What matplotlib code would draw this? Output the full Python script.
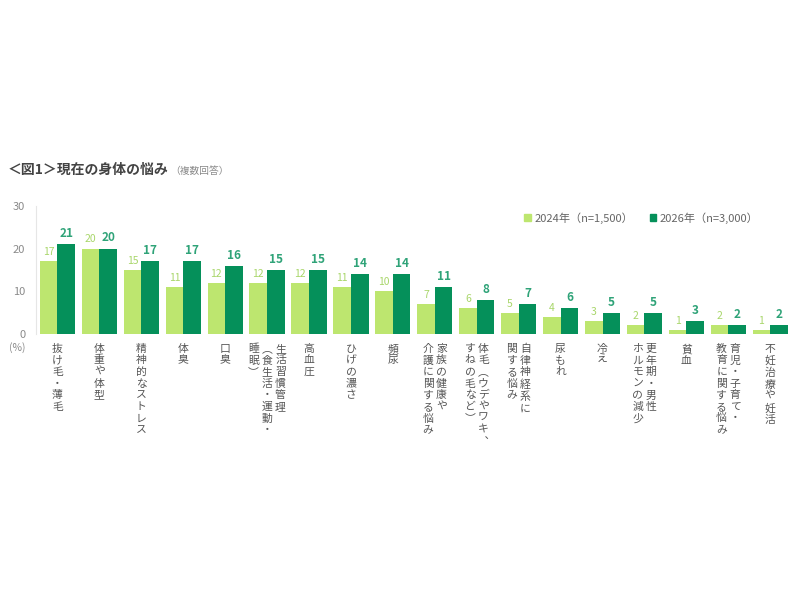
import matplotlib
matplotlib.use("Agg")
import matplotlib.pyplot as plt
from matplotlib.patches import Patch
import numpy as np

plt.rcParams['font.family'] = ['Noto Sans CJK JP', 'DejaVu Sans']

categories = [
    "抜け毛・薄毛",
    "体重や体型",
    "精神的なストレス",
    "体臭",
    "口臭",
    "生活習慣管理\n（食生活・運動・\n睡眠）",
    "高血圧",
    "ひげの濃さ",
    "頻尿",
    "家族の健康や\n介護に関する悩み",
    "体毛（ウデやワキ、\nすねの毛など）",
    "自律神経系に\n関する悩み",
    "尿もれ",
    "冷え",
    "更年期・男性\nホルモンの減少",
    "貧血",
    "育児・子育て・\n教育に関する悩み",
    "不妊治療や妊活",
]
values_2024 = [17, 20, 15, 11, 12, 12, 12, 11, 10, 7, 6, 5, 4, 3, 2, 1, 2, 1]
values_2026 = [21, 20, 17, 17, 16, 15, 15, 14, 14, 11, 8, 7, 6, 5, 5, 3, 2, 2]
series_names = ["2024年（n=1,500）", "2026年（n=3,000）"]
yticks = [0, 10, 20, 30]

light = "#bde66f"
dark = "#05905a"
light_txt = "#a8d66a"
dark_txt = "#2fa378"
gray = "#8a8a8a"

vert_map = {"（": "\ufe35", "）": "\ufe36", "、": "\ufe11"}

fig = plt.figure(figsize=(8, 6), dpi=100)
ax = fig.add_axes([0.0456, 0.4433, 0.9434, 0.2134])

x = np.arange(len(categories))
w = 0.42
ax.bar(x - w / 2, values_2024, width=w, color=light, label=series_names[0])
ax.bar(x + w / 2, values_2026, width=w, color=dark, label=series_names[1])

for xi, v in zip(x, values_2024):
    ax.annotate(f"{v}", (xi - w / 2, v), xytext=(0, 3), textcoords="offset points",
                ha="center", va="bottom", fontsize=7.5, color=light_txt)
for xi, v in zip(x, values_2026):
    ax.annotate(f"{v}", (xi + w / 2, v), xytext=(0, 3), textcoords="offset points",
                ha="center", va="bottom", fontsize=8.5, color=dark_txt, fontweight="bold")

ax.set_xlim(-0.5, len(categories) - 0.5)
ax.set_ylim(0, 30)
ax.set_yticks(yticks)
ax.set_yticklabels([str(t) for t in yticks])
ax.tick_params(axis="y", length=0, pad=8, labelsize=8, labelcolor=gray)
ax.set_xticks([])
for s in ["top", "right", "bottom"]:
    ax.spines[s].set_visible(False)
ax.spines["left"].set_color("#e6e6e6")
ax.spines["left"].set_linewidth(0.8)

# (%) under zero
ax.annotate("(%)", (0, 0), xycoords="axes fraction", xytext=(-14, -6),
            textcoords="offset points", ha="center", va="top", fontsize=7.5, color=gray)

# vertical category labels
col_sp = 0.32
for xi, cat in zip(x, categories):
    cols = cat.split("\n")
    n = len(cols)
    for j, col in enumerate(cols):
        off = ((n - 1) / 2 - j) * col_sp
        txt = "\n".join(vert_map.get(ch, ch) for ch in col)
        ax.annotate(txt, (xi + off, 0), xycoords=("data", "axes fraction"),
                    xytext=(0, -7), textcoords="offset points",
                    ha="center", va="top", fontsize=7.8, color="#555555",
                    linespacing=1.2, multialignment="center")

# legend
handles = [Patch(color=light, label=series_names[0]), Patch(color=dark, label=series_names[1])]
ax.legend(handles=handles, loc="upper right", bbox_to_anchor=(0.97, 1.03), ncol=2,
          frameon=False, fontsize=8, labelcolor="#666666", handlelength=0.6,
          handleheight=0.6, handletextpad=0.3, columnspacing=1.5)

# title
fig.text(0.01, 0.717, "＜図1＞現在の身体の悩み", fontsize=10, fontweight="bold",
         color="#444444", ha="left", va="center")
fig.text(0.213, 0.715, "（複数回答）", fontsize=7, color="#888888", ha="left", va="center")

fig.savefig("out.png", dpi=100, facecolor="white")
